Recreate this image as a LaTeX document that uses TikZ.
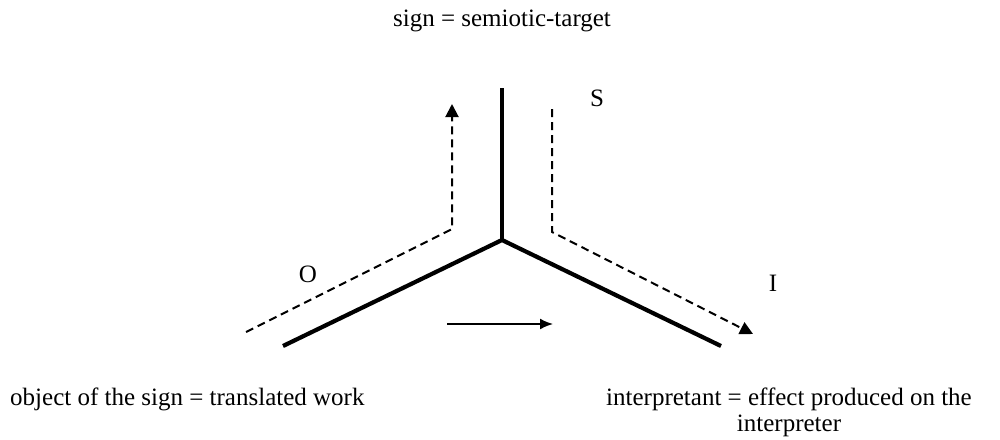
\documentclass[tikz,border=0pt]{standalone}
\usepackage{fontspec}
\setmainfont{Liberation Serif}
\usetikzlibrary{arrows.meta}
\tikzset{semio/.style={x=1pt,y=-1pt,font=\fontsize{25}{26}\selectfont},
  leg/.style={line width=4.2pt},
  path/.style={line width=2pt,dash pattern=on 8pt off 5pt},
  lbl/.style={inner sep=0pt}}

\begin{document}
\begin{tikzpicture}[semio]
    \useasboundingbox (0,0) rectangle (1000,439);
    % the three legs
    \coordinate (c) at (502,240);
    \coordinate (top) at (502,88);
    \coordinate (lo) at (283,346);
    \coordinate (ro) at (721,346);
    \draw[leg] (top) -- (c);
    \draw[leg] (lo) -- (c) -- (ro);
    % dashed paths
    \coordinate (ostart) at (246,332);
    \coordinate (ocorner) at (452,229);
    \coordinate (otip) at (452,104);
    \coordinate (sstart) at (552,109);
    \coordinate (scorner) at (552,232);
    \coordinate (itip) at (753,334);
    \draw[path,-{Triangle[length=13pt,width=13pt]}] (ostart) -- (ocorner) -- (otip);
    \draw[path,-{Triangle[length=13pt,width=13pt]}] (sstart) -- (scorner) -- (itip);
    \coordinate (aleft) at (447,324);
    \coordinate (aright) at (553,324);
    \draw[line width=1.8pt,-{Latex[length=13pt,width=11pt]}] (aleft) -- (aright);
    % labels
    \node[lbl,anchor=base] (sign) at (502,27) {sign = semiotic-target};
    \node[lbl] (O) at (308,274) {O};
    \node[lbl] (S) at (597,98) {S};
    \node[lbl] (I) at (773,283) {I};
    \node[lbl,anchor=base west] (obj) at (10,405) {object of the sign = translated work};
    \node[lbl,anchor=base,align=center] (intp) at (789,431) {interpretant = effect produced on the\\interpreter};
\end{tikzpicture}
\end{document}
